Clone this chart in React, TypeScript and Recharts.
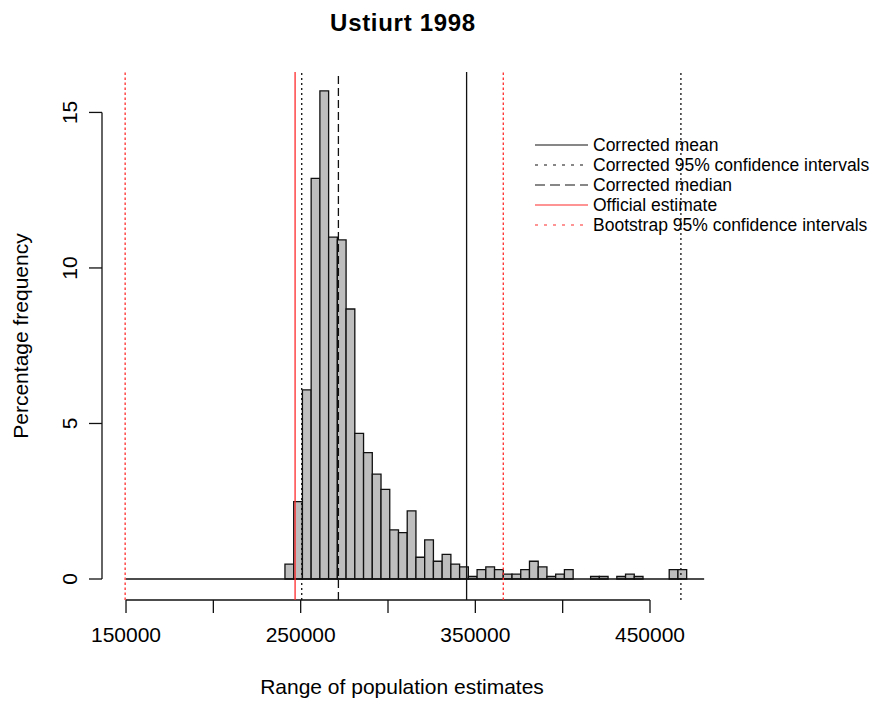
import React from 'react'
import { ComposedChart, XAxis, YAxis, Line, ReferenceArea, ReferenceLine, Legend } from 'recharts'

// histogram bins (left edge, width 5000) and their percentage frequency
const binStarts = [
  241000, 246000, 251000, 256000, 261000, 266000, 271000, 276000, 281000, 286000,
  291000, 296000, 301000, 306000, 311000, 316000, 321000, 326000, 331000, 336000,
  341000, 346000, 351000, 356000, 361000, 366000, 371000, 376000, 381000, 386000,
  391000, 396000, 401000, 406000, 411000, 416000, 421000, 426000, 431000, 436000,
  441000, 446000, 451000, 456000, 461000, 466000, 471000, 476000,
]
const binPct = [
  0.48, 2.49, 6.08, 12.88, 15.69, 10.99, 10.9, 8.68, 4.68, 4.06,
  3.37, 2.88, 1.58, 1.49, 2.19, 0.7, 1.26, 0.57, 0.79, 0.48,
  0.39, 0.08, 0.3, 0.39, 0.3, 0.16, 0.16, 0.3, 0.57, 0.39,
  0.08, 0.16, 0.3, 0, 0, 0.08, 0.08, 0, 0.08, 0.16,
  0.08, 0, 0, 0, 0.3, 0.3, 0, 0,
]
const BIN_WIDTH = 5000
const histFrom = 150000
const histTo = 481000

const xTicks = [150000, 200000, 250000, 300000, 350000, 400000, 450000]
const xLabelled = [150000, 250000, 350000, 450000]
const yTicks = [0, 5, 10, 15]

const correctedMean = 345000
const correctedCI = [250600, 467700]
const correctedMedian = 271600
const officialEstimate = 246800
const bootstrapCI = [149500, 366000]

const legendNames = [
  'Corrected mean',
  'Corrected 95% confidence intervals',
  'Corrected median',
  'Official estimate',
  'Bootstrap 95% confidence intervals',
]

const X_MIN = 136250
const X_MAX = 485500
const Y_MIN = -0.675
const Y_MAX = 16.3

const FONT = '"Liberation Sans", Arial, sans-serif'
const RED = '#ff2a2a'
const INK = '#111'

const histData = binStarts.map((s, i) => ({ mid: s + BIN_WIDTH / 2, pct: binPct[i] }))

const legendStyles = [
  { color: INK, dash: undefined },
  { color: INK, dash: '3 6' },
  { color: INK, dash: '10 5' },
  { color: RED, dash: undefined },
  { color: RED, dash: '3 6' },
]

function LegendBox() {
  return (
    <svg width={344} height={110} style={{ fontFamily: FONT }}>
      {legendNames.map((name, i) => (
        <g key={name}>
          <line x1={5} x2={58} y1={15 + i * 20} y2={15 + i * 20} stroke={legendStyles[i].color}
            strokeWidth={1.2} strokeDasharray={legendStyles[i].dash} />
          <text x={63} y={21 + i * 20} fontSize={17.5} fill="#000">{name}</text>
        </g>
      ))}
    </svg>
  )
}

const XTick = (props: any) => {
  const { x, payload } = props
  if (!xLabelled.includes(payload.value)) return <g />
  return (
    <text x={x} y={642} textAnchor="middle" fontSize={21} fill="#000" fontFamily={FONT}>
      {payload.value}
    </text>
  )
}

const YTick = (props: any) => {
  const { y, payload } = props
  return (
    <text x={77} y={y} transform={`rotate(-90, 77, ${y})`} textAnchor="middle" fontSize={21}
      fill="#000" fontFamily={FONT}>
      {payload.value}
    </text>
  )
}

export default function App() {
  return (
    <div style={{ position: 'absolute', left: 0, top: 0, width: 874, height: 704, background: '#fff', fontFamily: FONT }}>
      <ComposedChart width={874} height={704} data={histData} margin={{ top: 72, right: 162, bottom: 0, left: 0 }}>
        <XAxis dataKey="mid" type="number" domain={[X_MIN, X_MAX]} allowDataOverflow ticks={xTicks}
          height={104} axisLine={false} tickSize={13} tickLine={{ stroke: INK, strokeWidth: 1.3 }} tick={<XTick />} interval={0} />
        <YAxis type="number" domain={[Y_MIN, Y_MAX]} allowDataOverflow ticks={yTicks} width={102}
          axisLine={false} tickSize={13} tickLine={{ stroke: INK, strokeWidth: 1.3 }} tick={<YTick />} interval={0} />
        <Legend layout="vertical" align="center" verticalAlign="middle" content={() => <LegendBox />}
          wrapperStyle={{ left: 530, top: 130, width: 344, height: 110 }} />
        <Line dataKey="pct" stroke="none" dot={false} activeDot={false} isAnimationActive={false} />
        {binStarts.map((s, i) =>
          binPct[i] > 0 ? (
            <ReferenceArea key={s} x1={s} x2={s + BIN_WIDTH} y1={0} y2={binPct[i]} fill="#bebebe"
              fillOpacity={1} stroke={INK} strokeWidth={1.3} radius={0} ifOverflow="visible" />
          ) : null
        )}
        <ReferenceLine segment={[{ x: histFrom, y: 0 }, { x: histTo, y: 0 }]} stroke={INK} strokeWidth={1.3} ifOverflow="visible" />
        <ReferenceLine segment={[{ x: xTicks[0], y: Y_MIN }, { x: xTicks[xTicks.length - 1], y: Y_MIN }]} stroke={INK} strokeWidth={1.3} ifOverflow="visible" />
        <ReferenceLine segment={[{ x: X_MIN, y: yTicks[0] }, { x: X_MIN, y: yTicks[yTicks.length - 1] }]} stroke={INK} strokeWidth={1.3} ifOverflow="visible" />
        <ReferenceLine x={correctedMean} stroke={INK} strokeWidth={1.3} />
        <ReferenceLine x={correctedCI[0]} stroke={INK} strokeWidth={1.3} strokeDasharray="2 3" />
        <ReferenceLine x={correctedCI[1]} stroke={INK} strokeWidth={1.3} strokeDasharray="2 3" />
        <ReferenceLine x={correctedMedian} stroke={INK} strokeWidth={1.3} strokeDasharray="8 4" />
        <ReferenceLine x={officialEstimate} stroke={RED} strokeWidth={1.3} />
        <ReferenceLine x={bootstrapCI[0]} stroke={RED} strokeWidth={1.3} strokeDasharray="2.5 2.5" />
        <ReferenceLine x={bootstrapCI[1]} stroke={RED} strokeWidth={1.3} strokeDasharray="2.5 2.5" />
      </ComposedChart>
      <svg width={874} height={704} style={{ position: 'absolute', left: 0, top: 0, pointerEvents: 'none' }}>
        <text x={403} y={31} textAnchor="middle" fontSize={24} fontWeight="bold" letterSpacing={0.7} fontFamily={FONT}>
          Ustiurt 1998
        </text>
        <text x={402} y={694} textAnchor="middle" fontSize={21} fontFamily={FONT}>
          Range of population estimates
        </text>
        <text x={28} y={336} transform="rotate(-90, 28, 336)" textAnchor="middle" fontSize={21} fontFamily={FONT}>
          Percentage frequency
        </text>
      </svg>
    </div>
  )
}
